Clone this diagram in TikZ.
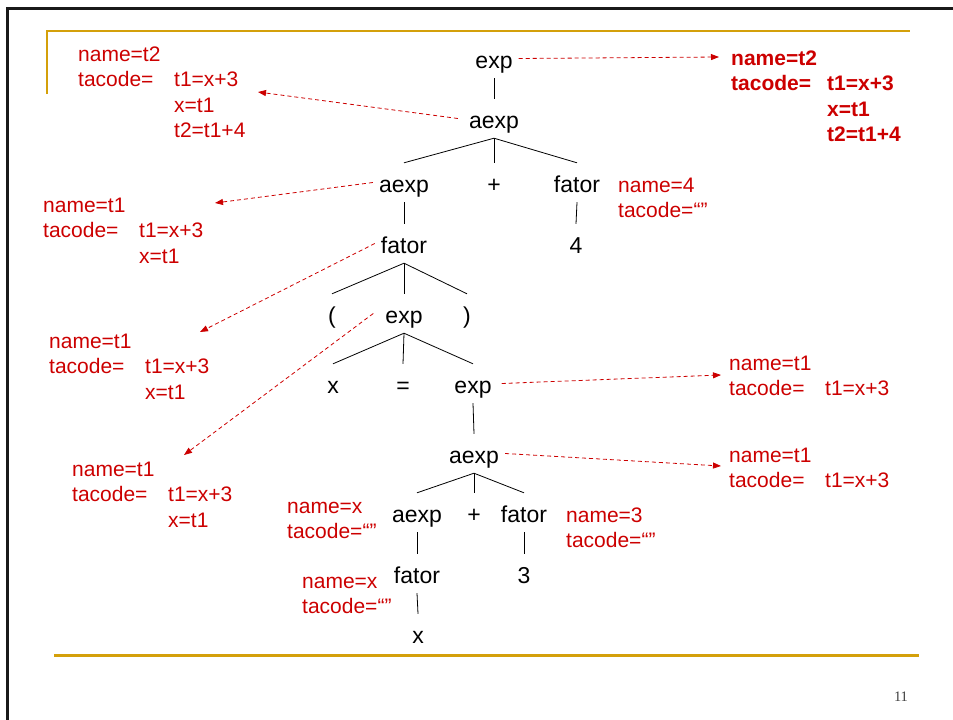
\documentclass[tikz,border=0pt]{standalone}
\usepackage{fontspec}
\setmainfont{Liberation Sans}
\newfontfamily\numfont{Liberation Serif}
\usetikzlibrary{arrows.meta}
\definecolor{cred}{RGB}{204,0,0}
\definecolor{cgold}{RGB}{212,160,10}
\definecolor{cframe}{RGB}{25,25,25}
\newcommand{\annblock}[1]{\begin{tabular}[t]{@{}p{96pt}@{}l@{}}#1\end{tabular}}

\begin{document}
\begin{tikzpicture}[x=1pt, y=-1pt, >={Triangle[length=8pt,width=6pt]},
  tn/.style={font=\fontsize{23}{28}\selectfont, text height=24pt, text depth=5pt,
    inner ysep=5pt, inner xsep=6pt, anchor=base},
  ann/.style={font=\fontsize{21}{25.5}\selectfont, text=cred, inner sep=0pt, anchor=base west},
  annb/.style={ann, font=\fontsize{21}{25.5}\selectfont\bfseries},
  lnk/.style={cred, line width=0.8pt, dash pattern=on 4pt off 3pt, ->}]
\useasboundingbox (0,0) rectangle (953,720);
\draw[cframe, line width=2.6pt] (7.3,720) -- (7.3,8.3) -- (953,8.3);
\draw[cgold, line width=2pt] (46.5,94) -- (46.5,31) -- (910,31);
\draw[cgold, line width=3pt] (54,655.5) -- (919,655.5);
\node[font=\numfont\fontsize{14.5}{16}\selectfont, text=darkgray, anchor=base] (pg) at (901,701) {11};
% arvore
\foreach \n/\x/\y/\t in {e1/494/68/exp, a1/494/128/aexp,
    a2/404/192/aexp, p1/494/192/+, f2/577/192/fator, f1/404/253/fator, n4/576/253/4,
    lp/332/323/(, e2/404/323/exp, rp/467/323/),
    x1/333/393/x, eq/403/393/=, e3/473/393/exp, a3/474/463/aexp,
    a4/417/522/aexp, p2/474/522/+, f3/524/522/fator,
    f4/417/583/fator, n3/524/583/3, x2/418/643/x}
  \node[tn] (\n) at (\x,\y) {\t};
\foreach \p/\c in {e1/a1, a1/a2, a1/p1, a1/f2, a2/f1, f2/n4, f1/lp, f1/e2, f1/rp,
    e2/x1, e2/eq, e2/e3, e3/a3, a3/a4, a3/p2, a3/f3, a4/f4, f3/n3, f4/x2}
  \draw[line width=0.8pt] (\p.south) -- (\c.north);
% atributos
\node[ann] (t2a) at (78,61) {\annblock{name=t2\\ tacode= & t1=x+3\\ & x=t1\\ & t2=t1+4}};
\node[annb] (t2b) at (731,65) {\annblock{name=t2\\ tacode= & t1=x+3\\ & x=t1\\ & t2=t1+4}};
\node[ann] (t1a) at (43,212) {\annblock{name=t1\\ tacode= & t1=x+3\\ & x=t1}};
\node[ann] (t1b) at (49,348) {\annblock{name=t1\\ tacode= & t1=x+3\\ & x=t1}};
\node[ann] (t1c) at (72,476) {\annblock{name=t1\\ tacode= & t1=x+3\\ & x=t1}};
\node[ann] (t1d) at (729,370) {\annblock{name=t1\\ tacode= & t1=x+3}};
\node[ann] (t1e) at (729,462) {\annblock{name=t1\\ tacode= & t1=x+3}};
\node[ann] (v4) at (618,192) {\annblock{name=4\\ tacode=“”}};
\node[ann] (vx1) at (287,513) {\annblock{name=x\\ tacode=“”}};
\node[ann] (vx2) at (302,588) {\annblock{name=x\\ tacode=“”}};
\node[ann] (v3) at (566,522) {\annblock{name=3\\ tacode=“”}};
\coordinate (k1) at (719,57); \coordinate (k2) at (258,92);
\coordinate (k3) at (215,203); \coordinate (k4) at (200,332);
\coordinate (k5) at (184,455); \coordinate (k6) at (721,375);
\coordinate (k7) at (721,466);
\draw[lnk] (e1.east) -- (k1);
\draw[lnk] ([xshift=-5pt]a1.west) -- (k2);
\draw[lnk] (a2.west) -- (k3);
\draw[lnk] (f1.west) -- (k4);
\draw[lnk] ([xshift=-6pt]e2.west) -- (k5);
\draw[lnk] ([xshift=4pt]e3.east) -- (k6);
\draw[lnk] (a3.east) -- (k7);
\end{tikzpicture}
\end{document}
